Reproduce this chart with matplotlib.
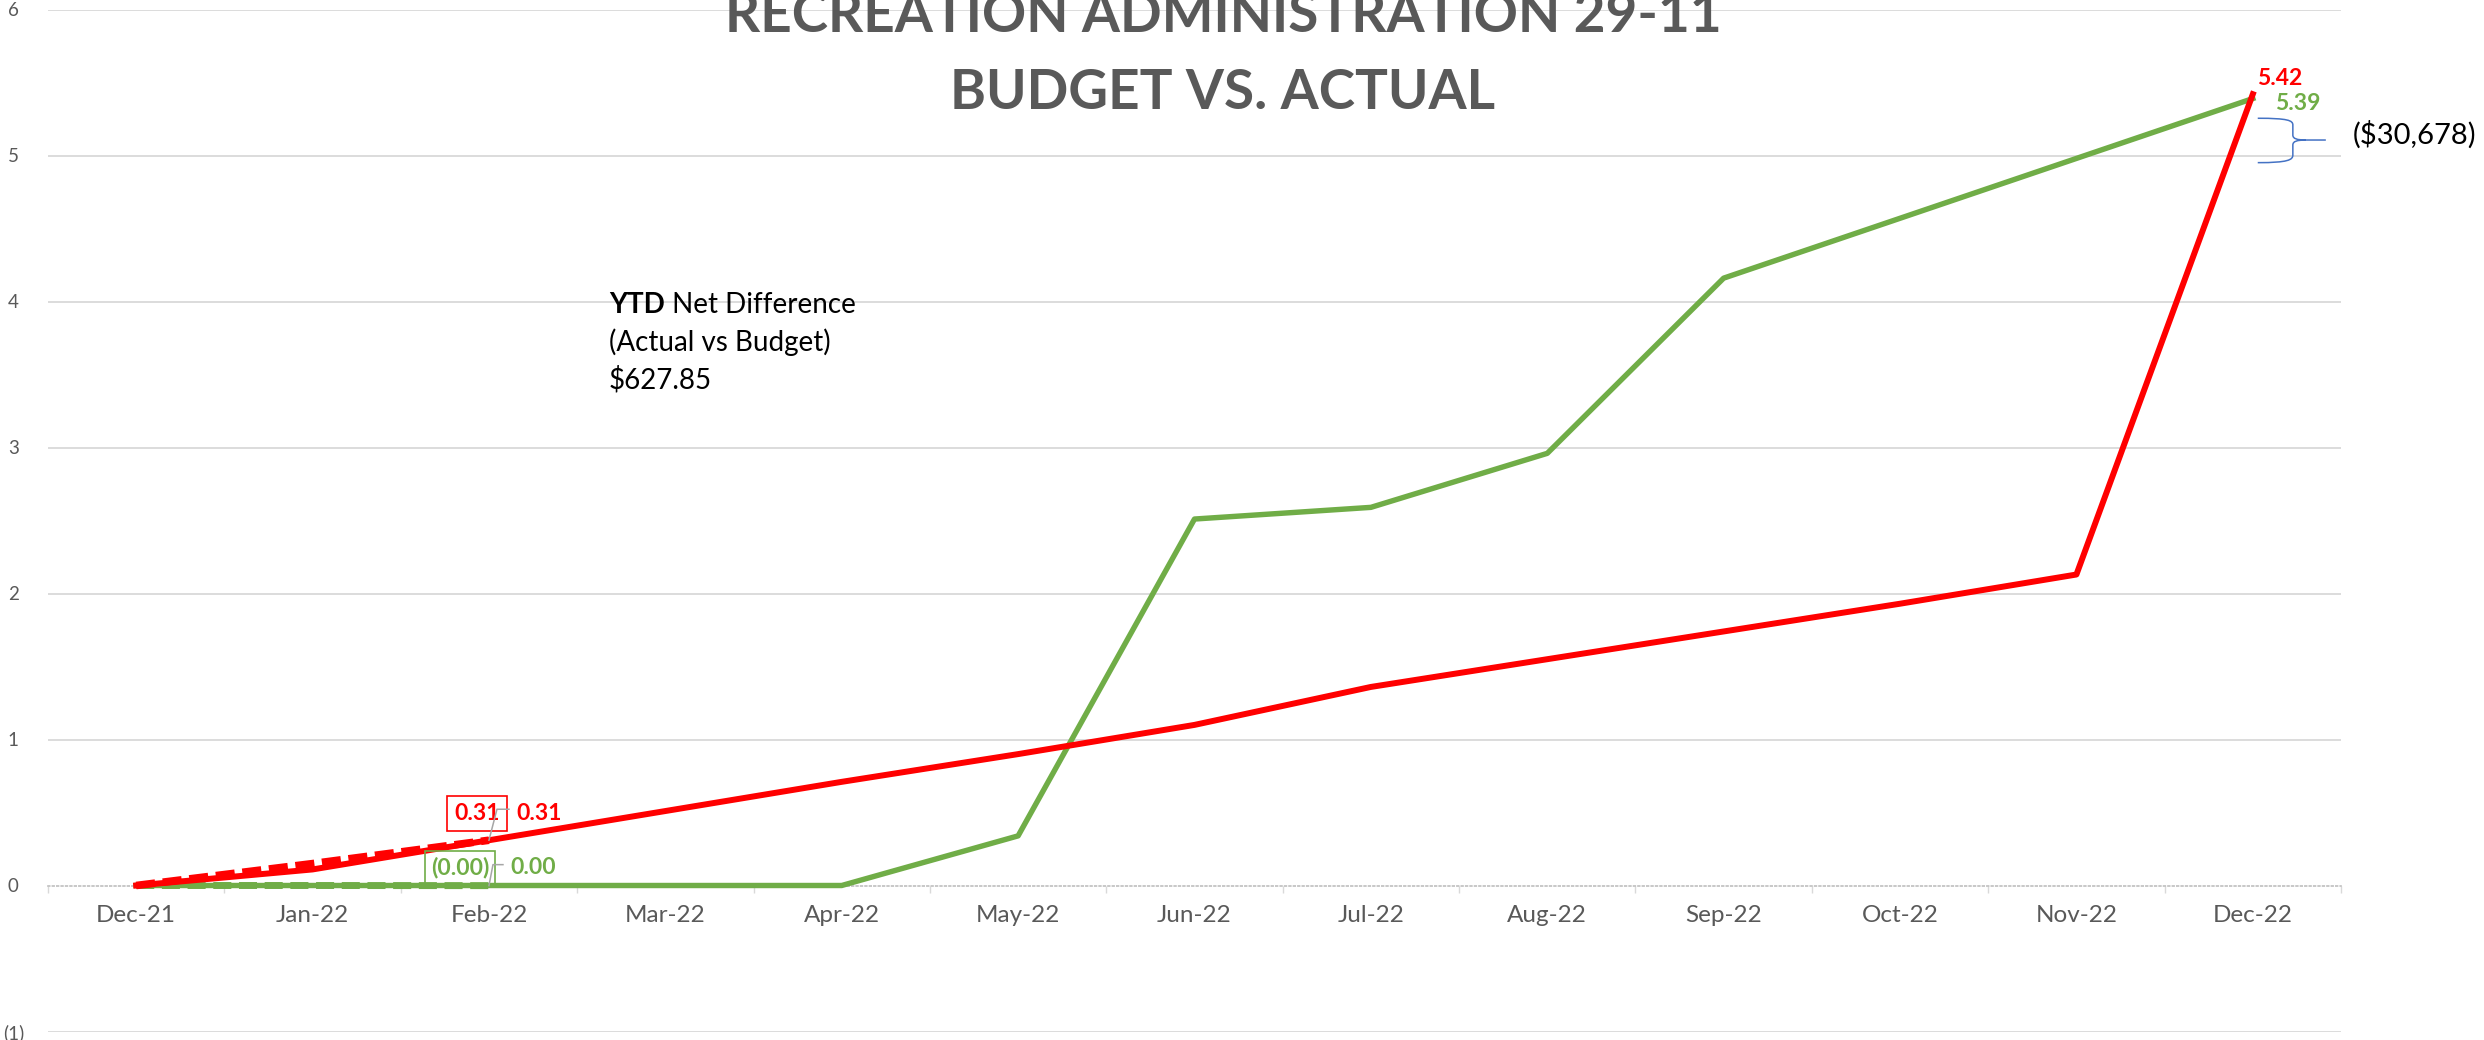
import numpy as np
import matplotlib
matplotlib.use('Agg')
import matplotlib.pyplot as plt
from matplotlib.path import Path
from matplotlib.patches import PathPatch
from matplotlib.lines import Line2D
from matplotlib.ticker import FuncFormatter
import matplotlib.transforms as mtrans

plt.rcParams['font.family'] = ['Lato', 'DejaVu Sans']

# ---------------- data ----------------
months = ['Dec-21', 'Jan-22', 'Feb-22', 'Mar-22', 'Apr-22', 'May-22', 'Jun-22',
          'Jul-22', 'Aug-22', 'Sep-22', 'Oct-22', 'Nov-22', 'Dec-22']
budget = [0.00, 0.11, 0.31, 0.51, 0.71, 0.90, 1.10, 1.36, 1.55, 1.74, 1.93, 2.13, 5.42]
actual = [0.00, 0.00, 0.00, 0.00, 0.00, 0.34, 2.51, 2.59, 2.96, 4.16, 4.57, 4.98, 5.39]
budget_prior = [0.00, 0.15, 0.31]
actual_prior = [0.00, 0.00, -0.001]
yticks = [-1, 0, 1, 2, 3, 4, 5, 6]
title_lines = ['RECREATION ADMINISTRATION 29-11', 'BUDGET VS. ACTUAL']
ytd_bold = 'YTD'
ytd_rest = [' Net Difference', '(Actual vs Budget)', '\\$627.85']
diff_label = '(\\$30,678)'

RED = '#FF0000'
GREEN = '#70AD47'
GRID = '#D9D9D9'
TXT = '#595959'

W, H = 2484, 1040
fig = plt.figure(figsize=(W / 100, H / 100), dpi=100)
ax = fig.add_axes([48 / W, 8.5 / H, 2293 / W, 1022 / H])


def fx(px):
    return px / W


def fy(py):
    return 1 - py / H


def fmt(v):
    return f'({abs(v):.2f})' if v < 0 else f'{v:.2f}'


x = np.arange(len(months))
ax.set_xlim(-0.5, len(months) - 0.5)
ax.set_ylim(min(yticks), max(yticks))

# grid / axes styling
ax.set_axisbelow(True)
ax.set_yticks(yticks)
ax.yaxis.set_major_formatter(FuncFormatter(lambda v, p: f'({abs(int(v))})' if v < 0 else f'{int(v)}'))
ax.yaxis.grid(True, color=GRID, lw=1.3)
ax.xaxis.grid(False)
for t, v in zip(ax.yaxis.get_major_ticks(), yticks):
    if v == 0:
        t.gridline.set_visible(False)
for s in ['left', 'right', 'top']:
    ax.spines[s].set_visible(False)
ax.spines['bottom'].set_position(('data', 0))
ax.spines['bottom'].set_color('#BFBFBF')
ax.spines['bottom'].set_linestyle(':')
ax.spines['bottom'].set_linewidth(1.2)

ax.set_xticks(x)
ax.set_xticklabels(months)
ax.set_xticks(np.arange(-0.5, len(months), 1), minor=True)
ax.tick_params(axis='x', which='major', length=0, pad=14, labelsize=17.5, labelcolor=TXT)
ax.tick_params(axis='x', which='minor', length=5, width=1, color=GRID, direction='out')
ax.tick_params(axis='y', length=0, pad=25, labelsize=13.5, labelcolor=TXT)
plt.setp(ax.get_yticklabels(), ha='center')

# lines
ax.plot(x, actual, color=GREEN, lw=3.9, solid_joinstyle='round', zorder=3)
ax.plot(x, budget, color=RED, lw=4.3, solid_joinstyle='round', zorder=4)
ax.plot(x[:len(actual_prior)], actual_prior, color=GREEN, lw=5.0, ls=(0, (2.6, 1.1)), zorder=3.5)
ax.plot(x[:len(budget_prior)], budget_prior, color=RED, lw=5.5, ls=(0, (2.5, 1.0)), zorder=4.5)

# data labels
lab_kw = dict(textcoords='offset pixels', ha='center', va='center',
              fontsize=16.5, fontweight='bold', annotation_clip=False, zorder=6)
i2 = 2
iN = len(months) - 1
ax.annotate(fmt(budget[i2]), (x[i2], budget[i2]), xytext=(50, 27), color=RED, **lab_kw)
ax.annotate(fmt(actual[i2]), (x[i2], actual[i2]), xytext=(44, 18), color=GREEN, **lab_kw)
ax.annotate(fmt(budget_prior[i2]), (x[i2], budget_prior[i2]), xytext=(-12, 27), color=RED,
            bbox=dict(boxstyle='square,pad=0.3', fc='none', ec=RED, lw=1.2), **lab_kw)
ax.annotate(fmt(actual_prior[i2]), (x[i2], actual_prior[i2]), xytext=(-29, 18), color=GREEN,
            bbox=dict(boxstyle='square,pad=0.25', fc='none', ec=GREEN, lw=1.2), **lab_kw)
ax.annotate(fmt(budget[iN]), (x[iN], budget[iN]), xytext=(27, 16), color=RED, **lab_kw)
ax.annotate(fmt(actual[iN]), (x[iN], actual[iN]), xytext=(45, -5), color=GREEN, **lab_kw)

# leader lines (pixel offsets from the data point)
for val, off in [(budget_prior[i2], [(0, 0), (8, 31), (20, 31)]),
                 (actual_prior[i2], [(0, 0), (4, 21), (14, 21)])]:
    bx, by = ax.transData.transform((x[i2], val))
    xs = [bx + o[0] for o in off]
    ys = [by + o[1] for o in off]
    fig.add_artist(Line2D(xs, ys, color='#A6A6A6', lw=1.1, transform=mtrans.IdentityTransform(), zorder=5))

# brace
verts = [(12.028, 5.255), (12.20, 5.255), (12.227, 5.24), (12.227, 5.209),
         (12.227, 5.14),
         (12.227, 5.115), (12.25, 5.106), (12.30, 5.106),
         (12.414, 5.106),
         (12.30, 5.106),
         (12.25, 5.106), (12.227, 5.097), (12.227, 5.072),
         (12.227, 5.003),
         (12.227, 4.97), (12.20, 4.951), (12.028, 4.951)]
codes = [Path.MOVETO, Path.CURVE4, Path.CURVE4, Path.CURVE4,
         Path.LINETO,
         Path.CURVE4, Path.CURVE4, Path.CURVE4,
         Path.LINETO,
         Path.MOVETO,
         Path.CURVE4, Path.CURVE4, Path.CURVE4,
         Path.LINETO,
         Path.CURVE4, Path.CURVE4, Path.CURVE4]
ax.add_patch(PathPatch(Path(verts, codes), fc='none', ec='#4472C4', lw=1.1, clip_on=False, zorder=5))

fig.text(fx(2353), fy(135), diff_label, ha='left', va='center', fontsize=21, color='black')

# title
fig.text(fx(1223), fy(32), title_lines[0], ha='center', va='baseline', fontsize=39.5,
         fontweight='bold', color=TXT)
fig.text(fx(1223), fy(109), title_lines[1], ha='center', va='baseline', fontsize=39.5,
         fontweight='bold', color=TXT)

# YTD text
t1 = fig.text(fx(609), fy(305), ytd_bold, ha='left', va='center', fontsize=20,
              fontweight='bold', color='black')
ax.annotate(ytd_rest[0], xy=(1, 0.5), xycoords=t1, ha='left', va='center', fontsize=20, color='black')
fig.text(fx(609), fy(342), ytd_rest[1], ha='left', va='center', fontsize=20, color='black')
fig.text(fx(609), fy(380), ytd_rest[2], ha='left', va='center', fontsize=20, color='black')

fig.savefig('out.png', dpi=100)
